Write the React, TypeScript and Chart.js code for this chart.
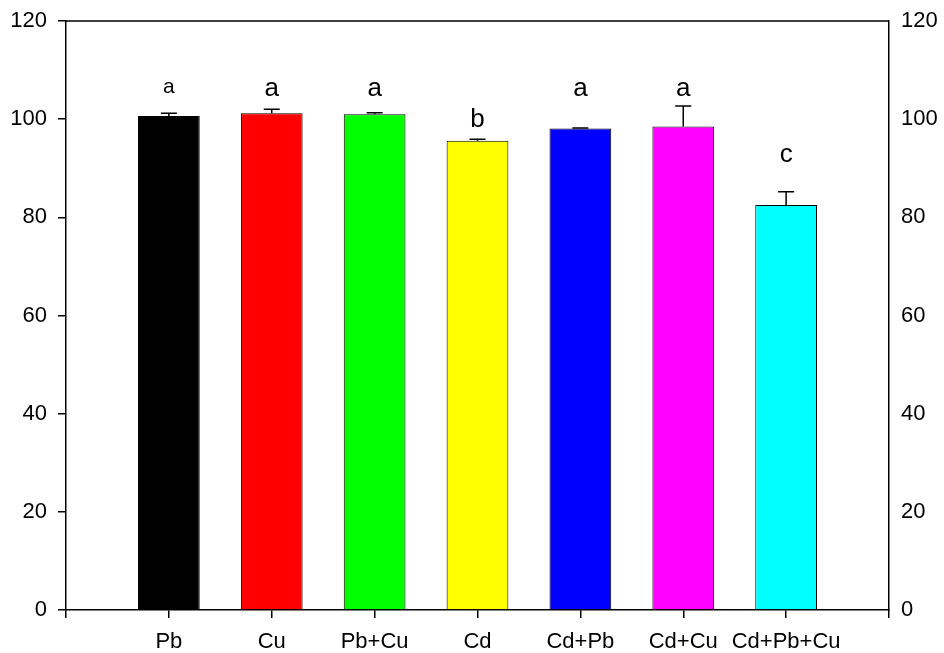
import React, { useEffect, useRef } from "react";
import { Chart, registerables } from "chart.js";

Chart.register(...registerables);

const categories = ["Pb", "Cu", "Pb+Cu", "Cd", "Cd+Pb", "Cd+Cu", "Cd+Pb+Cu"];
const values = [100.65, 101.2, 101.0, 95.6, 98.1, 98.5, 82.5];
const errors = [0.55, 0.8, 0.3, 0.3, 0.1, 4.2, 2.7];
const letters = ["a", "a", "a", "b", "a", "a", "c"];
const letterValues = [105.3, 104.7, 104.7, 98.35, 104.7, 104.7, 91.3];
const yTicks = [0, 20, 40, 60, 80, 100, 120];

const barColors = ["#000000", "#ff0000", "#00ff00", "#ffff00", "#0000ff", "#ff00ff", "#00ffff"];
const letterFontSizes = [21, 26, 26, 26, 26, 26, 26];
const FONT = "'Liberation Sans', Arial, sans-serif";

const overlayPlugin = {
  id: "overlay",
  afterDatasetsDraw(chart: any) {
    const ctx = chart.ctx;
    const meta = chart.getDatasetMeta(0);
    const yScale = chart.scales.y;
    ctx.save();
    ctx.strokeStyle = "#000";
    ctx.lineWidth = 1.5;
    meta.data.forEach((bar: any, idx: number) => {
      const i = idx - 1;
      if (i < 0 || i >= values.length) return;
      const x = bar.x;
      const yTop = yScale.getPixelForValue(values[i]);
      const yErr = yScale.getPixelForValue(values[i] + errors[i]);
      ctx.beginPath();
      ctx.moveTo(x, yTop);
      ctx.lineTo(x, yErr);
      ctx.moveTo(x - 8, yErr);
      ctx.lineTo(x + 8, yErr);
      ctx.stroke();
      ctx.fillStyle = "#000";
      ctx.font = `${letterFontSizes[i]}px ${FONT}`;
      ctx.textAlign = "center";
      ctx.textBaseline = "alphabetic";
      ctx.fillText(letters[i], x, yScale.getPixelForValue(letterValues[i]));
    });
    const a = chart.chartArea;
    ctx.lineWidth = 1.5;
    ctx.beginPath();
    ctx.moveTo(a.left, a.top);
    ctx.lineTo(a.right, a.top);
    ctx.stroke();
    ctx.restore();
  },
};

export default function App() {
  const canvasRef = useRef<HTMLCanvasElement | null>(null);

  useEffect(() => {
    document.body.style.margin = "0";
    const canvas = canvasRef.current;
    if (!canvas) return;
    const labels = ["", ...categories, ""];
    const data = [null, ...values, null];
    const colors = ["#fff", ...barColors, "#fff"];
    const chart = new Chart(canvas, {
      type: "bar",
      data: {
        labels,
        datasets: [
          {
            data: data as any,
            backgroundColor: colors,
            borderColor: "#000",
            borderWidth: 1,
            barPercentage: 0.6,
            categoryPercentage: 1,
            yAxisID: "y",
          },
        ],
      },
      options: {
        animation: false,
        responsive: false,
        maintainAspectRatio: false,
        layout: { padding: { top: 21, left: 0, right: 0, bottom: 0 } },
        plugins: { legend: { display: false }, tooltip: { enabled: false } },
        scales: {
          x: {
            type: "category",
            offset: false,
            grid: { offset: false, drawOnChartArea: false, drawTicks: true, tickLength: 8, color: "#000", lineWidth: 1.5 },
            border: { color: "#000", width: 1.5 },
            ticks: {
              color: "#000",
              font: { family: FONT, size: 22 },
              padding: 11,
              maxRotation: 0,
              autoSkip: false,
            },
            afterFit(scale: any) {
              scale.height = 43;
            },
          },
          y: {
            position: "left",
            min: 0,
            max: 120,
            afterBuildTicks(scale: any) {
              scale.ticks = yTicks.map((v) => ({ value: v }));
            },
            grid: { drawOnChartArea: false, drawTicks: true, tickLength: 8, color: "#000", lineWidth: 1.5 },
            border: { color: "#000", width: 1.5 },
            ticks: { color: "#000", font: { family: FONT, size: 22 }, padding: 11 },
            afterFit(scale: any) {
              scale.width = 66;
              scale.paddingTop = 0;
              scale.paddingBottom = 0;
            },
          },
          y2: {
            position: "right",
            min: 0,
            max: 120,
            afterBuildTicks(scale: any) {
              scale.ticks = yTicks.map((v) => ({ value: v }));
            },
            grid: { drawOnChartArea: false, drawTicks: false, color: "#000" },
            border: { color: "#000", width: 1.5 },
            ticks: { color: "#000", font: { family: FONT, size: 22 }, padding: 12 },
            afterFit(scale: any) {
              scale.width = 55;
              scale.paddingTop = 0;
              scale.paddingBottom = 0;
            },
          },
        },
      },
      plugins: [overlayPlugin],
    });
    return () => chart.destroy();
  }, []);

  return (
    <div style={{ width: 944, height: 653 }}>
      <canvas ref={canvasRef} width={944} height={653} style={{ display: "block" }} />
    </div>
  );
}
